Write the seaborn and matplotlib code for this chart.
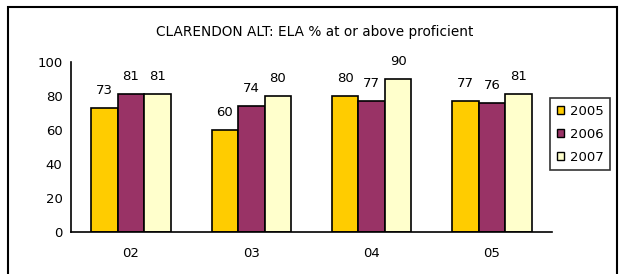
import matplotlib
matplotlib.use("Agg")
import matplotlib.pyplot as plt
import matplotlib.patches as mpatches
import seaborn as sns
import pandas as pd

# data
grades = ["02", "03", "04", "05"]
years = ["2005", "2006", "2007"]
vals_2005 = [73, 60, 80, 77]
vals_2006 = [81, 74, 77, 76]
vals_2007 = [81, 80, 90, 81]
colors = ["#FFCC00", "#993366", "#FFFFCC"]

df = pd.DataFrame({
    "grade": grades * 3,
    "year": [y for y in years for _ in grades],
    "pct": vals_2005 + vals_2006 + vals_2007,
})

sns.set_style("white")
plt.rcParams["font.family"] = ["DejaVu Sans"]
plt.rcParams["text.color"] = "black"
plt.rcParams["xtick.color"] = "black"
plt.rcParams["ytick.color"] = "black"

fig = plt.figure(figsize=(6.21, 2.74), dpi=100)
ax = fig.add_axes([0.114, 0.153, 0.775, 0.621])

sns.barplot(data=df, x="grade", y="pct", hue="year", order=grades, hue_order=years,
            palette=colors, width=0.66, edgecolor="black", linewidth=1.2,
            saturation=1, legend=False, ax=ax)

# value labels above bars
for cont in ax.containers:
    ax.bar_label(cont, labels=[f"{int(v)}" for v in cont.datavalues],
                 padding=8, fontsize=9.5, color="black")

ax.set_ylim(0, 100)
ax.set_xlim(-0.5, 3.5)
ax.set_yticks(range(0, 101, 20))
ax.set_xlabel("")
ax.set_ylabel("")
ax.set_xticks(range(4))
ax.set_xticklabels(grades)
ax.set_xticks([-0.5, 0.5, 1.5, 2.5, 3.5], minor=True)
ax.tick_params(axis="x", which="major", length=0, pad=11, labelsize=9.5, labelcolor="black")
ax.tick_params(axis="x", which="minor", length=4, width=1, direction="out", color="black")
ax.tick_params(axis="y", length=4, width=1, direction="out", color="black",
               labelsize=9.5, pad=2, labelcolor="black")
sns.despine(ax=ax)
for s in ["left", "bottom"]:
    ax.spines[s].set_color("black")
    ax.spines[s].set_linewidth(1.2)

fig.text(0.507, 0.885, "CLARENDON ALT: ELA % at or above proficient",
         ha="center", va="center", fontsize=9.8, color="black")

handles = [mpatches.Patch(facecolor=c, edgecolor="black", label=y) for c, y in zip(colors, years)]
leg = fig.legend(handles=handles, loc="center left", bbox_to_anchor=(0.886, 0.51),
                 frameon=True, fancybox=False, fontsize=9.5, handlelength=0.55,
                 handleheight=0.55, handletextpad=0.45, labelspacing=0.75,
                 borderpad=0.5, borderaxespad=0)
leg.get_frame().set_edgecolor("black")
leg.get_frame().set_linewidth(1.2)
for t in leg.get_texts():
    t.set_color("black")

# outer chart frame
fig.patches.append(mpatches.Rectangle((0.013, -0.1), 0.98, 1.074, transform=fig.transFigure,
                                      fill=False, edgecolor="black", linewidth=1.5))

fig.savefig("out.png", dpi=100)
